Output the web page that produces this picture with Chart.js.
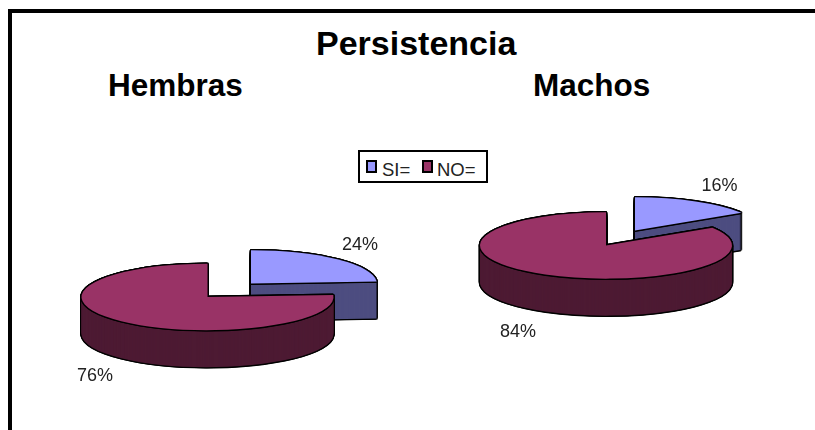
<!DOCTYPE html>
<html>
<head>
<meta charset="utf-8">
<style>
  html, body { margin: 0; padding: 0; background: #fff; }
  #page { position: relative; width: 815px; height: 430px; overflow: hidden; background: #fff; }
  #frame { position: absolute; left: 8px; top: 9px; width: 815px; height: 430px; border-left: 4px solid #000; border-top: 4px solid #000; }
  canvas { position: absolute; left: 0; top: 0; }
  .head { position: absolute; font: bold 31.5px "Liberation Sans", Arial, sans-serif; color: #000; white-space: nowrap; }
  #legend { position: absolute; left: 358px; top: 150px; width: 130px; height: 33px; box-sizing: border-box; border: 2px solid #000; background: #fff;
            font: 18.5px "Liberation Sans", Arial, sans-serif; color: #222; }
  #legend span { position: absolute; top: 7px; white-space: nowrap; }
  #legend i { position: absolute; top: 8px; width: 11px; height: 13px; box-sizing: border-box; border: 2px solid #000; }
</style>
</head>
<body>
<div id="page">
  <div id="frame"></div>
  <div class="head" style="left:316px;top:24px;font-size:34px">Persistencia</div>
  <div class="head" style="left:108px;top:67px">Hembras</div>
  <div class="head" style="left:533px;top:67px">Machos</div>
  <canvas id="hembras" width="815" height="430"></canvas>
  <canvas id="machos" width="815" height="430"></canvas>
  <div id="legend"></div>
</div>
<script src="https://cdn.jsdelivr.net/npm/chart.js@4/dist/chart.umd.min.js"></script>
<script>
// Survey answers, in percent
const categories = ['SI=', 'NO='];
const hembrasValues = [24, 76];
const machosValues = [16, 84];

const faceColors = ['#9999ff', '#993366'];
const wallColors = ['#4d4d80', '#4d1a33'];
const RADIUS = 126;
const TILT = 0.263;
const DEPTH = 37;

// Renders a flat pie as a tilted disc: the wall is a stack of copies of each arc
const tiltedPie = {
  id: 'tiltedPie',
  beforeDatasetsDraw(chart, args, opts) {
    const ctx = chart.ctx;
    const arcs = chart.getDatasetMeta(0).data;
    const plainOptions = color => ({
      backgroundColor: color, borderColor: color, borderWidth: 0, borderAlign: 'center',
      borderDash: [], borderDashOffset: 0, borderRadius: 0, circular: true, offset: 0, spacing: 0
    });
    const paint = (arc, color, dx, dy, shift) => {
      ctx.save();
      ctx.translate(opts.cx + shift.x + dx, opts.cy + shift.y + dy);
      ctx.scale(1, TILT);
      ctx.translate(-arc.x, -arc.y);
      const keep = arc.options;
      arc.options = plainOptions(color);
      arc.draw(ctx);
      arc.options = keep;
      ctx.restore();
    };
    const ring = [[-1.4, 0], [1.4, 0], [0, -1.4], [0, 1.4], [-1, -1], [1, -1], [-1, 1], [1, 1]];
    arcs.forEach((arc, i) => {
      const shift = opts.shifts[i];
      // dark silhouette with a black rim
      for (let d = 0; d <= DEPTH; d++) ring.forEach(r => paint(arc, '#000', r[0], d + r[1], shift));
      for (let d = DEPTH; d >= 1; d--) paint(arc, wallColors[i], 0, d, shift);
      // top face with a black rim
      ring.forEach(r => paint(arc, '#000', r[0], r[1], shift));
      paint(arc, faceColors[i], 0, 0, shift);
    });
    // percentage labels
    ctx.save();
    ctx.font = '18px "Liberation Sans", Arial, sans-serif';
    ctx.fillStyle = '#222';
    ctx.textAlign = 'center';
    ctx.textBaseline = 'middle';
    chart.data.datasets[0].data.forEach((v, i) => {
      ctx.fillText(v + '%', opts.labels[i].x, opts.labels[i].y);
    });
    ctx.restore();
    return false;
  }
};

function makePie(id, values, layout) {
  return new Chart(document.getElementById(id), {
    type: 'pie',
    data: { labels: categories, datasets: [{ data: values, backgroundColor: faceColors, borderWidth: 0 }] },
    options: {
      responsive: false,
      animation: false,
      radius: RADIUS,
      events: [],
      plugins: { legend: { display: false }, tooltip: { enabled: false }, tiltedPie: layout }
    },
    plugins: [tiltedPie]
  });
}

makePie('hembras', hembrasValues, {
  cx: 207.5, cy: 297,
  shifts: [{ x: 43.5, y: -13.5 }, { x: 0, y: 0 }],
  labels: [{ x: 360, y: 245 }, { x: 95, y: 376 }]
});
makePie('machos', machosValues, {
  cx: 606, cy: 245.5,
  shifts: [{ x: 29, y: -15 }, { x: 0, y: 0 }],
  labels: [{ x: 719.5, y: 186 }, { x: 518, y: 332 }]
});

// Key shared by both pies
const legend = document.getElementById('legend');
[[6, 22], [62, 77]].forEach((pos, i) => {
  const swatch = document.createElement('i');
  swatch.style.left = pos[0] + 'px';
  swatch.style.background = faceColors[i];
  const text = document.createElement('span');
  text.style.left = pos[1] + 'px';
  text.textContent = categories[i];
  legend.append(swatch, text);
});
</script>
</body>
</html>
